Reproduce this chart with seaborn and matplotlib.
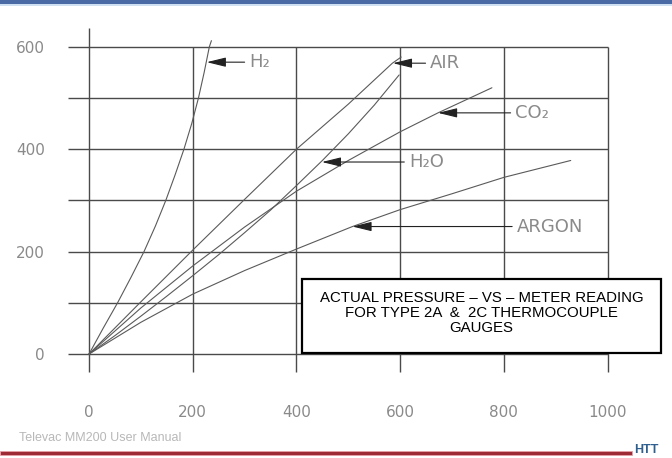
import numpy as np
import pandas as pd
import matplotlib
matplotlib.use("Agg")
import matplotlib.pyplot as plt
from matplotlib.patches import Rectangle
import seaborn as sns

# ── DATA (meter reading vs actual pressure) ─────────────────────────────────
h2_x = [0, 27, 55, 81, 106, 128, 148, 166, 183, 198, 211, 222, 232, 236]
h2_y = [0, 50, 100, 150, 200, 250, 300, 350, 400, 450, 500, 550, 600, 612]

air_x = [0, 100, 200, 300, 400, 500, 585, 602]
air_y = [0, 102, 203, 302, 400, 488, 568, 580]

h2o_x = [0, 50, 100, 150, 200, 250, 300, 350, 400, 450, 500, 550, 598]
h2o_y = [0, 36, 74, 113, 153, 194, 237, 281, 329, 378, 430, 486, 545]

co2_x = [0, 100, 200, 300, 400, 500, 600, 673, 777]
co2_y = [0, 90, 172, 248, 318, 378, 434, 471, 520]

argon_x = [0, 100, 200, 300, 400, 508, 600, 700, 800, 929]
argon_y = [0, 62, 117, 163, 205, 249, 282, 313, 345, 378]

gases = ["H₂", "AIR", "H₂O", "CO₂", "ARGON"]
# arrow tip on the curve and start of the label text
tip_x = [227, 586, 449, 673, 508]
tip_y = [570, 568, 375, 471, 249]
text_x = [309, 658, 617, 822, 825]

x_ticks = [0, 200, 400, 600, 800, 1000]
y_ticks = [0, 200, 400, 600]
y_grid = [0, 100, 200, 300, 400, 500, 600]

title_lines = ["ACTUAL PRESSURE – VS – METER READING",
               "FOR TYPE 2A  &  2C THERMOCOUPLE",
               "GAUGES"]

df = pd.concat([
    pd.DataFrame({"x": h2_x, "y": h2_y, "gas": "H₂"}),
    pd.DataFrame({"x": air_x, "y": air_y, "gas": "AIR"}),
    pd.DataFrame({"x": h2o_x, "y": h2o_y, "gas": "H₂O"}),
    pd.DataFrame({"x": co2_x, "y": co2_y, "gas": "CO₂"}),
    pd.DataFrame({"x": argon_x, "y": argon_y, "gas": "ARGON"}),
])

sns.set_style("white")
plt.rcParams["font.family"] = ["DejaVu Sans"]

fig = plt.figure(figsize=(6.72, 4.58), dpi=100)
ax = fig.add_axes([0.0978, 0.1823, 0.814, 0.7714])
ax.set_xlim(-45, 1010)
ax.set_ylim(-40, 650)

GRID = "#4a4a4a"
ax.hlines(y_grid, -41, 1000, color=GRID, lw=1.0, zorder=1)
ax.vlines(x_ticks[1:], -35, 600, color=GRID, lw=1.0, zorder=1)
ax.vlines([0], -35, 637, color=GRID, lw=1.0, zorder=1)

# curves
for gas in gases:
    sub = df[df["gas"] == gas]
    sns.lineplot(data=sub, x="x", y="y", ax=ax, color="#5a5a5a", lw=0.8,
                 sort=False, estimator=None, legend=False, zorder=2)

# labelled arrows
for g, tx, ty, lx in zip(gases, tip_x, tip_y, text_x):
    ax.annotate(g, xy=(tx, ty), xytext=(lx, ty), ha="left", va="center",
                fontsize=13, color="#8a8a8a",
                arrowprops=dict(arrowstyle="-|>,head_length=0.9,head_width=0.22",
                                color="#222222", lw=0.8, shrinkA=1, shrinkB=0))

# tick labels
ax.set_xticks(x_ticks)
ax.set_yticks(y_ticks)
ax.tick_params(axis="both", length=0, labelsize=11, labelcolor="#8a8a8a")
ax.tick_params(axis="x", pad=22)
ax.tick_params(axis="y", pad=15)
ax.set_xlabel("")
ax.set_ylabel("")
sns.despine(ax=ax, left=True, bottom=True)

# title box
box = Rectangle((410, 2), 694, 144, fill=True, facecolor="white",
                edgecolor="black", lw=1.6, clip_on=False, zorder=4)
ax.add_patch(box)
ax.text(757, 80, "\n".join(title_lines), ha="center", va="center",
        fontsize=10.8, family=["Liberation Sans", "DejaVu Sans"],
        linespacing=1.08, color="black", zorder=5, clip_on=False)

# header / footer decoration
fig.add_artist(Rectangle((0, 1 - 4 / 458), 1, 4 / 458, transform=fig.transFigure,
                         facecolor="#4a6aa6", edgecolor="none"))
fig.add_artist(Rectangle((0, 1 - 6 / 458), 1, 2 / 458, transform=fig.transFigure,
                         facecolor="#cfe0f2", edgecolor="none"))
fig.text(19 / 672, 1 - 438 / 458, "Televac MM200 User Manual", fontsize=9,
         color="#b8b8b8", va="center", ha="left",
         family=["Liberation Sans", "DejaVu Sans"])
fig.add_artist(Rectangle((0, 1 - 455 / 458), 632 / 672, 4 / 458,
                         transform=fig.transFigure, facecolor="#9e2a35",
                         edgecolor="#e8a0a8", lw=0.6))
fig.text(634 / 672, 1 - 450 / 458, "HTT", fontsize=9, fontweight="bold",
         color="#2f5f8f", va="center", ha="left",
         family=["Liberation Sans", "DejaVu Sans"])

plt.savefig("out.png", dpi=100)
